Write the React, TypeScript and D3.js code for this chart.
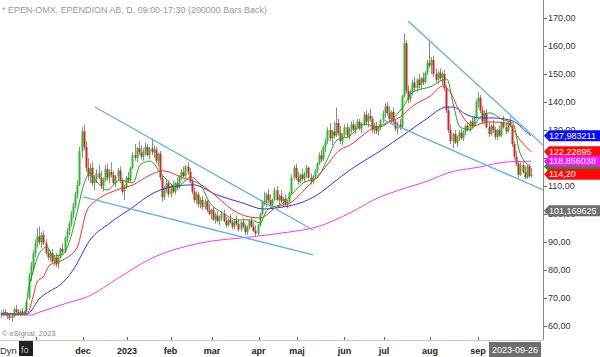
import React from 'react';
import * as d3 from 'd3';

const title = '* EPEN-OMX, EPENDION AB, D, 09:00-17:30 (200000 Bars Back)';
const copyright = '© eSignal, 2023';
const lastDate = '2023-09-26';

// [open, high, low, close] per trading day
const candles: [number, number, number, number][] = [
  [64,65.5,63,64.5],[64.5,66,63.5,65],[65,66,64,64.2],[64.2,65,62.5,63.5],[63.5,64.5,62,62.8],
  [62.8,64,61.5,63.6],[63.6,66.5,63,66],[66,67.5,64.5,65],[65,66,63.8,64.5],[64.5,65.8,63.5,65.2],
  [65.2,66.4,64,64.6],[64.6,65.5,63.8,65],[65,69,64.5,68.5],[70,79,69.5,78],[78,83,76,81.5],
  [81.5,87,80,86],[86,91,84.5,89.5],[89.5,95,88,92],[92,95.5,89,90],[90,93.5,88,92.5],
  [92.5,94,89,89.5],[89.5,91,85.5,86],[86,88,83.5,84.5],[84.5,87,83,86],[86,87.5,82,83],
  [83,85.5,81.5,84.5],[84.5,86,81,82],[82,85,80.5,84.5],[84.5,88,84,87.5],[87.5,89.5,85.5,86.5],
  [86.5,92,86,91.5],[91.5,95,90,94],[94,97.5,92.5,96.5],[96.5,101,95.5,100],[100,104,98.5,103],
  [103,108,102,107],[107,112,105.5,110.5],[110.5,124,110,122.5],[122.5,131,120,129.5],[129.5,132,123,124],
  [124,126,115,116.5],[116.5,120,112,113.5],[113.5,118,111,116.5],[116.5,118.5,110,111],[111,114,108.5,112.5],
  [112.5,116,111,114.5],[114.5,117.5,112.5,113],[113,115.5,109,110],[110,113,108,112],[112,117.5,111.5,116],
  [116,118,112,113],[113,116,111,115],[115,118.5,113,114],[114,115.5,110.5,111],[111,114,109.5,113.5],
  [113.5,116.5,112,115.5],[115.5,117,111,112],[112,113,107,108],[108,110.5,105,109.5],[109.5,113.5,109,113],
  [113,115,111,112],[112,117,111.5,116.5],[116.5,122,116,121],[121,125,119,120],[120,124,118.5,123.5],
  [123.5,126,121,122],[122,124.5,119.5,120.5],[120.5,123.5,119,122.5],[122.5,125.5,121,124],[124,125,120.5,121],
  [121,124,119.5,123.5],[123.5,127,121,122],[122,124.5,120,123],[123,124,118,119],[119,122,117,121.5],
  [121.5,122.5,112,113],[113,114,104.5,106],[106,110,105,109],[109,112.5,107.5,111],[111,112,106,107],
  [107,110.5,106,110],[110,112,107.5,108],[108,111.5,107,111],[111,113,108.5,109.5],[109.5,114,109,113.5],
  [113.5,116,112,115],[115,117,113,113.5],[113.5,117.5,113,117],[117,118.5,114,115],[115,116.5,111,111.5],
  [111.5,112.5,107,108],[108,109.5,104,105],[105,108,103.5,107],[107,108,102.5,103.5],[103.5,106,102,105],
  [105,106.5,101.5,102.5],[102.5,105.5,101.5,104.5],[104.5,105,100.5,101.5],[101.5,103.5,99.5,100],[100,102,98,101.5],
  [101.5,102.5,97.5,98],[98,100.5,96.5,99.5],[99.5,101,97,97.5],[97.5,99.5,96,98.5],[98.5,101,97.5,100],
  [100,101.5,97,97.5],[97.5,99,95,96],[96,98.5,95.5,98],[98,100,96.5,97],[97,98,94.5,95.5],
  [95.5,98,94.5,97.5],[97.5,99.5,96,96.5],[96.5,98,94,94.5],[94.5,97.5,94,97],[97,98.5,95,95.5],
  [95.5,96.5,92.5,93.5],[93.5,96,92.5,95.5],[95.5,98,94.5,97.5],[97.5,99,95,95.5],[95.5,97,93.5,94],
  [94,96,92,93],[93,96.5,92.5,96],[96,100.5,95.5,100],[100,105,99.5,104.5],[104.5,108,103,103.5],
  [103.5,107.5,102.5,107],[107,109,104,105],[105,107,102.5,103],[103,105.5,101.5,105],[105,109.5,104.5,108.5],
  [108.5,110,104.5,105],[105,107,103,106.5],[106.5,108.5,104,104.5],[104.5,106,102.5,105.5],[105.5,107,103,103.5],
  [103.5,105,102,104.5],[104.5,108,104,107.5],[107.5,114,107,113],[113,117.5,112,116.5],[116.5,118,112,113],
  [113,115,110.5,111.5],[111.5,114.5,111,114],[114,116,112,112.5],[112.5,115,111.5,114.5],[114.5,117.5,113,116.5],
  [116.5,117,112.5,113],[113,114.5,110.5,111.5],[111.5,114,110.5,113.5],[113.5,116,112.5,115.5],[115.5,118.5,114.5,118],
  [118,122,117.5,121],[121,123,118.5,119.5],[119.5,124.5,119,124],[124,127,122,126],[126,131,125,130],
  [130,132.5,126,127],[127,130,124.5,129.5],[129.5,133,127,128],[128,138,127.5,132.5],[132.5,134,128,129],
  [129,131.5,125,126],[126,129,124.5,128.5],[128.5,132,127.5,131],[131,132.5,127,128],[128,131,126.5,130.5],
  [130.5,133,129,132],[132,133.5,129.5,130],[130,132,128.5,131.5],[131.5,134,130.5,133],[133,134,130,130.5],
  [130.5,132.5,129,132],[132,136.5,131.5,135.5],[135.5,137,132,133],[133,136,131,135],[135,137.5,133,134],
  [134,135,129,130],[130,132.5,128.5,131.5],[131.5,133,128.5,129.5],[129.5,131.5,128,131],[131,134,130,133.5],
  [133.5,137,132.5,136],[136,139.5,134.5,138.5],[138.5,140,135,136],[136,138.5,133,134],[134,137,132.5,136.5],
  [136.5,138,132,133],[133,134,129.5,130.5],[130.5,133,128.5,132],[132,134,130,131],[131,142.5,130.5,142],
  [142,164.5,141.5,161],[161,162,143,144],[144,146,139.5,141],[141,144.5,140,143.5],[143.5,148,142.5,147],
  [147,149,144,145],[145,148.5,143.5,148],[148,150,145,146],[146,149,144.5,148.5],[148.5,150.5,146,147],
  [147,151,146.5,150.5],[150.5,155,149.5,154],[154,162,152,153],[153,156,150,155],[155,156.5,149,150],
  [150,152,147,148],[148,151,146.5,150.5],[150.5,152,147.5,148.5],[148.5,151,146,150],[150,151.5,144,145],
  [145,146,136,137],[137,138.5,129,130],[130,132,125,126],[126,129,123.5,128.5],[128.5,130,125,125.5],
  [125.5,128,124,127.5],[127.5,130,126,129],[129,130.5,126.5,127],[127,130,126,129.5],[129.5,132,128,131.5],
  [131.5,133,129.5,130],[130,133.5,129.5,133],[133,134.5,130.5,131.5],[131.5,135,131,134.5],[134.5,141,134,140],
  [140,143.5,138,141.5],[141.5,142.5,136,137],[137,138.5,132,133],[133,137,132,136],[136,137.5,130.5,131],
  [131,133,127.5,128.5],[128.5,132,128,131.5],[131.5,133.5,129,130],[130,131,126.5,127.5],[127.5,130.5,126.5,130],
  [130,131.5,127.5,128],[128,133,127.5,132.5],[132.5,135,130.5,131],[131,132.5,128.5,129.5],[129.5,133,129,132.5],
  [132.5,134.8,131,131.5],[131.5,132,124,125],[125,126,119.5,120.5],[120.5,122.5,117,118],[118,119,113,114],
  [114,118.5,113.5,117.5],[117.5,119,114.5,115],[115,117,112.5,113],[113,117.5,112.5,117],[117,118,113,113.5],
  [113.5,116.5,113,114.2],
];

// moving averages: [bar index, value]
const maGreen: [number, number][] = [
  [0,64.3],[11.3,64.3],[12.7,72.1],[15.1,79.3],[18.4,86.4],[21.7,88.2],[24.5,85],[29.2,85.7],[32.5,90.7],
  [35.8,100.4],[38.7,109.6],[42,114.6],[45.3,111.4],[50,108.6],[56.1,112.1],[62.3,111.1],[65.6,117.5],
  [70.3,118.9],[76.4,113.6],[83,109.6],[89.2,113.2],[93.9,110.7],[98.6,103.9],[104.7,100.4],[111.3,97.9],
  [117.5,97.9],[122.2,96.8],[125.5,101.4],[133,103.9],[137.7,107.5],[142.5,111.1],[149.1,112.9],[153.8,119.3],
  [158.5,126.4],[164.6,127.9],[170.8,132.1],[178.8,131.1],[183.5,133.2],[189.6,138.2],[194.3,143.6],
  [202.4,145.4],[210.4,148.2],[213.2,139.6],[216.5,131.1],[221.2,130],[226,134.6],[230.7,136.1],
  [236.8,133.6],[241.5,132.5],[244.8,121.8],[250,116.9],
];
const maRed: [number, number][] = [
  [0,64.3],[12.3,64.3],[15.1,70.4],[17,75.7],[19.8,77.5],[23.1,81.8],[29.2,83.6],[35.8,87.9],[40.6,101.4],
  [45.3,105],[54.7,108.6],[62.3,110.4],[70.3,113.9],[76.4,115.4],[85.8,112.9],[93.9,110.7],[101.9,106.1],
  [109.4,101.4],[117.5,98.9],[122.2,98.6],[130.2,102.5],[136.3,103.9],[144.3,109.6],[151.9,115.7],
  [159.9,122.9],[164.6,124.6],[174,130],[182.1,132.5],[188.2,134.6],[194.3,138.6],[202.4,142.1],
  [208.5,145.7],[211.8,143.6],[216.5,136.4],[222.6,131.4],[229.2,132.9],[238.7,132.5],[244.8,126.4],
  [250,122.23],
];
const maBlue: [number, number][] = [
  [0,64.3],[12.3,64.3],[18.4,70],[23.1,72.5],[27.8,74.6],[34,80],[42,90.7],[51.4,96.8],[62.3,102.5],
  [70.3,106.8],[79.7,109.6],[90.6,110.4],[101.9,106.8],[114.2,103.9],[123.6,101.8],[133,102.5],
  [141,103.9],[149.1,106.8],[156.6,111.1],[164.6,115.7],[178.8,122.5],[190.6,128.6],[200,133.6],
  [210.4,138.2],[213.2,138.2],[219.8,135.4],[226,134.3],[232.1,134.3],[241.5,133.2],[248,129.2],
  [250,127.98],
];
const maMagenta: [number, number][] = [
  [0,63.9],[13.7,63.9],[18.4,65],[31.1,68.2],[40.6,70.4],[56.1,77.5],[70.3,83.9],[93.9,89.6],
  [117.5,91.8],[136.3,93.6],[149.1,95.4],[164.6,100.4],[178.8,106.1],[188.2,108.6],[202.4,112.1],
  [210.4,114.6],[226,116.8],[238.7,118.6],[250,118.86],
];

// trend lines: [bar1, price1, bar2, price2]
const trendLines: [number, number, number, number][] = [
  [44.3, 138.2, 147.2, 94.3],
  [38.7, 106.1, 147.2, 85.4],
  [192, 168.9, 255.7, 124.6],
  [180.2, 133.6, 255.7, 108.6],
];

const yTicks = [60, 70, 80, 90, 100, 110, 120, 130, 140, 150, 160, 170];
const monthLabels = ['', 'dec', '2023', 'feb', 'mar', 'apr', 'maj', 'jun', 'jul', 'aug', 'sep'];
const monthBars = [16.5, 38.7, 59.4, 80, 99.5, 121.5, 139.6, 162, 180.7, 202.4, 225];

const priceLabelValues = [101.169625, 127.983211, 122.22895, 116.94, 118.856038, 114.2];
const priceLabelTexts = ['101,169625', '127,983211', '122,22895', '', '118,856038', '114,20'];
const priceLabelColors = ['#707070', '#0a0aff', '#ff0a0a', '#10a010', '#ff10ff', '#ff0a0a'];

const FONT = '"Liberation Sans", Arial, sans-serif';
const PLOT_R = 543;
const PLOT_B = 340;

export default function App() {
  const x = d3.scaleLinear().domain([0, 250]).range([1, 531]);
  const y = d3.scaleLinear().domain([60, 170]).range([326, 18]);
  const line = d3
    .line<[number, number]>()
    .x((d) => x(d[0]))
    .y((d) => y(d[1]))
    .curve(d3.curveMonotoneX);

  const maList: [string, [number, number][]][] = [
    ['#ff33ff', maMagenta],
    ['#3030ff', maBlue],
    ['#ff2a2a', maRed],
    ['#1fa01f', maGreen],
  ];

  return (
    <div style={{ position: 'fixed', left: 0, top: 0, width: 600, height: 357, background: '#fff' }}>
      <svg width={600} height={357} style={{ display: 'block' }} fontFamily={FONT}>
        <defs>
          <clipPath id="plot">
            <rect x={0} y={0} width={PLOT_R} height={PLOT_B} />
          </clipPath>
        </defs>
        <rect x={0} y={0} width={600} height={357} fill="#fff" />
        <text x={2} y={12.5} fontSize={9} fill="#9a9a9a" textLength={265} lengthAdjust="spacingAndGlyphs">
          {title}
        </text>

        <g clipPath="url(#plot)">
          {candles.map((c, i) => {
            const [o, h, l, cl] = c;
            const cx = Math.round(x(i));
            const top = y(Math.max(o, cl));
            const bot = y(Math.min(o, cl));
            return (
              <g key={i}>
                <line x1={cx + 0.5} x2={cx + 0.5} y1={y(h)} y2={y(l)} stroke="#8c8c8c" strokeWidth={1} />
                <rect
                  x={cx - 0.5}
                  y={top}
                  width={2}
                  height={Math.max(1, bot - top)}
                  fill={cl >= o ? '#28c028' : '#d02828'}
                />
              </g>
            );
          })}
          {maList.map(([color, pts], k) => (
            <path key={k} d={line(pts) || ''} fill="none" stroke={color} strokeWidth={1} />
          ))}
          {trendLines.map((t, k) => (
            <line
              key={k}
              x1={x(t[0])}
              y1={y(t[1])}
              x2={x(t[2])}
              y2={y(t[3])}
              stroke="#5ab2f2"
              strokeWidth={1.3}
            />
          ))}
        </g>

        {/* axes */}
        <line x1={PLOT_R + 0.5} x2={PLOT_R + 0.5} y1={0} y2={PLOT_B} stroke="#8a8a8a" />
        <line x1={0} x2={PLOT_R} y1={PLOT_B + 0.5} y2={PLOT_B + 0.5} stroke="#c8c8c8" />
        {yTicks.map((t) => (
          <g key={t}>
            <line x1={PLOT_R} x2={PLOT_R + 4} y1={Math.round(y(t)) + 0.5} y2={Math.round(y(t)) + 0.5} stroke="#666" />
            <text x={PLOT_R + 5} y={y(t)} dy="0.35em" fontSize={9} fill="#333">
              {t.toFixed(2).replace('.', ',')}
            </text>
          </g>
        ))}
        {monthBars.map((b, k) => (
          <g key={k}>
            <line x1={Math.round(x(b)) + 0.5} x2={Math.round(x(b)) + 0.5} y1={PLOT_B - 3} y2={PLOT_B} stroke="#666" />
            <text x={x(b)} y={354} textAnchor="middle" fontSize={9} fontWeight="bold" fill="#222">
              {monthLabels[k]}
            </text>
          </g>
        ))}

        {/* price labels */}
        {priceLabelValues.map((v, k) => {
          const cy = y(v);
          const pts = `${PLOT_R + 1},${cy} ${PLOT_R + 6},${cy - 5.5} 600,${cy - 5.5} 600,${cy + 5.5} ${PLOT_R + 6},${cy + 5.5}`;
          return (
            <g key={k}>
              <polygon points={pts} fill={priceLabelColors[k]} />
              {priceLabelTexts[k] && (
                <text x={PLOT_R + 6} y={cy} dy="0.36em" fontSize={9} fill="#fff">
                  {priceLabelTexts[k]}
                </text>
              )}
            </g>
          );
        })}

        <text x={2} y={336} fontSize={7.5} fill="#8a8a8a">{copyright}</text>
        <text x={0} y={354} fontSize={9.5} fill="#333">Dyn</text>
        <rect x={19} y={341} width={14} height={15} fill="#222" />
        <text x={21} y={353} fontSize={9} fill="#bbb">fo</text>

        <rect x={489} y={342} width={52} height={15} fill="#6e6e6e" />
        <text x={515} y={353} textAnchor="middle" fontSize={9} fill="#fff">{lastDate}</text>
      </svg>
    </div>
  );
}
